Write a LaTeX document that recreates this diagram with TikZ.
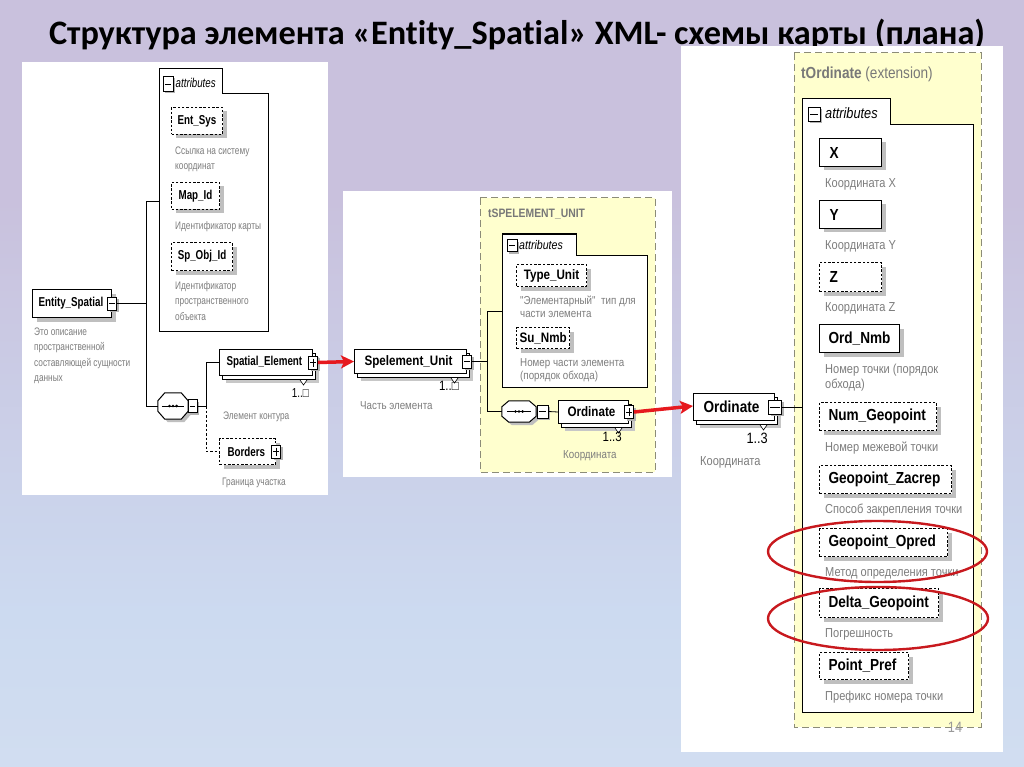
\documentclass[tikz,border=0pt]{standalone}
\usepackage{fontspec}
\setmainfont{Liberation Sans}
\newfontfamily\titlefont[Ligatures=NoCommon]{Carlito}
\newfontfamily\nf[FakeStretch=0.85]{Liberation Sans}
\newfontfamily\nfl[FakeStretch=0.76]{Liberation Sans}
\usetikzlibrary{shadows,arrows.meta,calc}
\definecolor{bgtop}{RGB}{201,193,221}
\definecolor{bgblue}{RGB}{204,218,240}
\definecolor{bgbot}{RGB}{222,229,242}
\definecolor{yel}{RGB}{255,255,206}
\definecolor{yeldash}{RGB}{140,140,120}
\definecolor{desc}{RGB}{125,125,125}
\definecolor{hdr}{RGB}{120,120,120}
\definecolor{arrred}{RGB}{230,25,30}
\definecolor{ellred}{RGB}{200,25,30}
\pgfdeclareverticalshading{bgshade}{100bp}{color(0bp)=(bgbot); color(35bp)=(bgblue); color(62bp)=(bgtop); color(100bp)=(bgtop)}
\tikzset{
  base/.style={draw=black, fill=white, line width=1pt, anchor=north west, inner xsep=6pt, inner ysep=0pt, align=left},
  req/.style={base, drop shadow={shadow xshift=4pt, shadow yshift=-4pt, fill=black!25, opacity=1}},
  opt/.style={req, dash pattern=on 2.5pt off 1.8pt},
  multi/.style={base,
    drop shadow={shadow xshift=6pt, shadow yshift=-7pt, fill=black!22, opacity=1},
    copy shadow={shadow xshift=3pt, shadow yshift=-4pt, draw=black, fill=white, line width=1pt}},
  grp/.style={draw=black, fill=white, line width=1pt},
  ybox/.style={draw=yeldash, fill=yel, line width=1pt, dash pattern=on 7pt off 4pt},
  pmbox/.style={draw=black, fill=white, line width=0.9pt, minimum width=9pt, minimum height=13pt, inner sep=0pt,
    drop shadow={shadow xshift=2pt, shadow yshift=-2pt, fill=black!30, opacity=1}},
  minus/.style={pmbox, path picture={\draw[line width=0.8pt] ([xshift=1.8pt]path picture bounding box.west) -- ([xshift=-1.8pt]path picture bounding box.east);}},
  plus/.style={pmbox, path picture={\draw[line width=0.8pt] ([xshift=1.8pt]path picture bounding box.west) -- ([xshift=-1.8pt]path picture bounding box.east);
      \draw[line width=0.8pt] ([yshift=-2.5pt]path picture bounding box.north) -- ([yshift=2.5pt]path picture bounding box.south);}},
  seqbox/.style={draw=none, inner sep=0pt},
  compo/.style={draw=black, fill=white, line width=1pt, drop shadow={shadow xshift=3pt, shadow yshift=-3pt, fill=black!25, opacity=1}},
  conn/.style={draw=black, line width=0.8pt},
  notch/.style={draw=black, line width=0.6pt, fill=white},
  redarr/.style={draw=arrred, line width=3.5pt, -{Stealth[length=13pt, width=13pt, inset=3pt]}},
  redell/.style={draw=ellred, line width=2.4pt},
  desc/.style={text=desc, anchor=base west, inner sep=0pt, align=left},
  mult/.style={text=black, anchor=base east, inner sep=0pt},
  Lb/.style={font=\nfl\bfseries\fontsize{12.9}{14}\selectfont},
  Mb/.style={font=\nf\bfseries\fontsize{13.7}{15}\selectfont},
  Rb/.style={font=\nf\bfseries\fontsize{16}{18}\selectfont},
  Ld/.style={desc, font=\nfl\fontsize{10.9}{15.3}\selectfont},
  Md/.style={desc, font=\nf\fontsize{11.5}{13}\selectfont},
  Rd/.style={desc, font=\nf\fontsize{13}{15}\selectfont},
  Lm/.style={mult, font=\nfl\fontsize{13}{14}\selectfont},
  Mm/.style={mult, font=\nf\fontsize{13.5}{14}\selectfont},
  Rm/.style={mult, font=\nf\fontsize{15}{16}\selectfont},
  attrt/.style={anchor=west, inner sep=0pt},
}
\begin{document}
\begin{tikzpicture}[x=1pt,y=-1pt]
\useasboundingbox (0,0) rectangle (1024,767);
\shade[shading=bgshade] (0,0) rectangle (1024,767);

% title
\node[font=\titlefont\bfseries\fontsize{34.3}{40}\selectfont, anchor=base, inner sep=0pt] (title) at (517,45)
  {Структура элемента «Entity\_Spatial» XML- схемы карты (плана)};

% ================= LEFT PANEL =================
\fill[white] (22,62) rectangle (328,495);
\draw[grp] (159,331) -- (159,69) -- (222,69) -- (222,94) -- (268,94) -- (268,331) -- cycle;
\node[minus, minimum width=10pt, minimum height=15pt] (atLm) at (168,84) {};
\node[attrt, font=\nfl\itshape\fontsize{12.8}{13}\selectfont] (atLt) at (175.5,83) {attributes};

\node[opt, Lb, inner xsep=4pt, text width=43pt, minimum height=27pt, align=center] (entsys) at (171,107) {Ent\_Sys};
\node[Ld] (entsysd) at (175,170) {Ссылка на систему\\координат};
\node[opt, Lb, inner xsep=4pt, text width=40pt, minimum height=27pt, align=center] (mapid) at (171,182) {Map\_Id};
\node[Ld] (mapidd) at (175,229.5) {Идентификатор карты};
\node[opt, Lb, inner xsep=4pt, text width=53pt, minimum height=28pt, align=center] (spobj) at (171,242) {Sp\_Obj\_Id};
\node[Ld] (spobjd) at (175,320) {Идентификатор\\пространственного\\объекта};

\node[req, Lb, inner xsep=6pt, text width=67pt, minimum height=28pt] (ent) at (32,289) {Entity\_Spatial};
\node[minus] (entpm) at (ent.east) {};
\node[Ld] (entd) at (34,381.5) {Это описание\\пространственной\\составляющей сущности\\данных};

\node[seqbox, minimum width=30pt, minimum height=26pt] (sq1) at (173,406) {};
\path[compo] ([xshift=7pt]sq1.north west) -- ([xshift=-7pt]sq1.north east) -- ([yshift=-8pt]sq1.north east)
  -- ([yshift=8pt]sq1.south east) -- ([xshift=-7pt]sq1.south east) -- ([xshift=7pt]sq1.south west)
  -- ([yshift=8pt]sq1.south west) -- ([yshift=-8pt]sq1.north west) -- cycle;
\draw[conn] ([xshift=4pt]sq1.west) -- ([xshift=-4pt]sq1.east);
\foreach \dx in {-3.6,0,3.6} \fill ([xshift=\dx pt]sq1.center) circle (1.4pt);
\node[minus] (sq1pm) at (192.5,406) {};

\node[multi, Lb, inner xsep=7pt, text width=79pt, minimum height=26pt] (spel) at (219,349) {Spatial\_Element};
\node[plus] (spelpm) at (spel.east) {};
\draw[notch] ([xshift=-13pt,yshift=-4pt]spel.south east) -- ++(3.5pt,-5pt) -- ++(3.5pt,5pt);
\node[Lm] (spelm) at (309,397) {1..□};
\node[Ld] (speld) at (223,419.5) {Элемент контура};

\node[opt, Lb, inner xsep=8pt, text width=40pt, minimum height=26pt] (bord) at (219,438) {Borders};
\node[plus] (bordpm) at (bord.east) {};
\node[Ld] (bordd) at (222,485.5) {Граница участка};

\coordinate (aL) at (159,201);
\coordinate (v1) at (146,201);
\coordinate (j2) at (206,406);
\draw[conn] (aL) -- (v1) -- (sq1.west -| v1) -- (sq1.west);
\draw[conn] (entpm.east) -- (entpm.east -| v1);
\draw[conn] (sq1pm.east) -- (sq1pm.east -| j2) |- (spel.west);
\draw[conn, dash pattern=on 2.5pt off 2pt] (sq1pm.east -| j2) |- (bord.west);

% ================= MIDDLE PANEL =================
\fill[white] (343,191) rectangle (672,477);
\draw[ybox] (480,198) rectangle (655,472);
\node[anchor=base west, inner sep=0pt, text=hdr, font=\nf\bfseries\fontsize{12.2}{13}\selectfont] (tspel) at (488,217.5) {tSPELEMENT\_UNIT};
\draw[grp] (502,387) -- (502,234) -- (576,234) -- (576,255) -- (647,255) -- (647,387) -- cycle;
\node[minus, minimum width=10pt, minimum height=12pt] (atMm) at (512,245.5) {};
\node[attrt, font=\nf\itshape\fontsize{12.5}{13}\selectfont] (atMt) at (519,245) {attributes};

\node[opt, Mb, inner xsep=6pt, text width=58pt, minimum height=22pt, align=center] (tu) at (516,264) {Type\_Unit};
\node[Md] (tud) at (520,317) {"Элементарный"\ \ тип для\\части элемента};
\node[opt, Mb, inner xsep=3pt, text width=47pt, minimum height=21pt, align=center] (sn) at (516,327) {Su\_Nmb};
\node[Md] (snd) at (520,379) {Номер части элемента\\(порядок обхода)};

\node[multi, Mb, inner xsep=10pt, text width=92pt, minimum height=24pt] (su) at (354,349) {Spelement\_Unit};
\node[minus] (supm) at (su.east) {};
\draw[notch] ([xshift=-16pt,yshift=-4pt]su.south east) -- ++(3.5pt,-5pt) -- ++(3.5pt,5pt);
\node[Mm] (sum) at (459,390) {1..□};
\node[Md] (sud) at (360,409) {Часть элемента};

\node[seqbox, minimum width=34pt, minimum height=21pt] (sq2) at (519,411.5) {};
\path[compo] ([xshift=7pt]sq2.north west) -- ([xshift=-7pt]sq2.north east) -- ([yshift=-6pt]sq2.north east)
  -- ([yshift=6pt]sq2.south east) -- ([xshift=-7pt]sq2.south east) -- ([xshift=7pt]sq2.south west)
  -- ([yshift=6pt]sq2.south west) -- ([yshift=-6pt]sq2.north west) -- cycle;
\draw[conn] ([xshift=5pt]sq2.west) -- ([xshift=-5pt]sq2.east);
\foreach \dx in {-3.6,0,3.6} \fill ([xshift=\dx pt]sq2.center) circle (1.4pt);
\node[minus, minimum width=11pt] (sq2pm) at (542.5,411.5) {};

\node[multi, Mb, inner xsep=9pt, text width=52pt, minimum height=23pt] (mord) at (558,400) {Ordinate};
\node[plus] (mordpm) at (mord.east) {};
\draw[notch] ([xshift=-14pt,yshift=-4pt]mord.south east) -- ++(3.5pt,-5pt) -- ++(3.5pt,5pt);
\node[Mm] (mordm) at (622,441) {1..3};
\node[Md] (mordd) at (563,458) {Координата};

\coordinate (aM) at (502,311);
\coordinate (j3) at (487,311);
\draw[conn] (aM) -- (j3) -- (sq2.west -| j3) -- (sq2.west);
\draw[conn] (supm.east) -- (supm.east -| j3);
\draw[conn] (sq2pm.east) -- (mord.west);

% ================= RIGHT PANEL =================
\fill[white] (681,46) rectangle (1003,752);
\draw[ybox] (794,53) rectangle (981,727);
\node[anchor=base west, inner sep=0pt, text=hdr, font=\nf\fontsize{16}{17}\selectfont] (tord) at (801,78.5) {{\bfseries tOrdinate} (extension)};
\draw[grp] (802,712) -- (802,99) -- (890,99) -- (890,125) -- (973,125) -- (973,712) -- cycle;
\node[minus, minimum width=12pt, minimum height=14pt] (atRm) at (814,114) {};
\node[attrt, font=\nf\itshape\fontsize{15}{16}\selectfont] (atRt) at (825,113) {attributes};

\node[req, Rb, inner xsep=10pt, text width=42pt, minimum height=28pt] (ax) at (819,138) {X};
\node[Rd] (axd) at (825,187.5) {Координата X};
\node[req, Rb, inner xsep=10pt, text width=42pt, minimum height=28pt] (ay) at (819,200) {Y};
\node[Rd] (ayd) at (825,249.5) {Координата Y};
\node[opt, Rb, inner xsep=10pt, text width=42pt, minimum height=29pt] (az) at (819,262) {Z};
\node[Rd] (azd) at (825,311.5) {Координата Z};
\node[req, Rb, inner xsep=9pt, text width=62pt, minimum height=28pt] (on) at (819,324) {Ord\_Nmb};
\node[Rd] (ond) at (825,388.5) {Номер точки (порядок\\обхода)};
\node[opt, Rb, inner xsep=9pt, text width=99pt, minimum height=28pt] (ng) at (819,402) {Num\_Geopoint};
\node[Rd] (ngd) at (825,451.5) {Номер межевой точки};
\node[opt, Rb, inner xsep=9pt, text width=114pt, minimum height=28pt] (gz) at (819,465) {Geopoint\_Zacrep};
\node[Rd] (gzd) at (825,513.5) {Способ закрепления точки};
\node[opt, Rb, inner xsep=9pt, text width=110pt, minimum height=28pt] (go) at (819,528) {Geopoint\_Opred};
\node[Rd] (god) at (825,576.5) {Метод определения точки};
\node[opt, Rb, inner xsep=9pt, text width=101pt, minimum height=29pt] (dg) at (819,588) {Delta\_Geopoint};
\node[Rd] (dgd) at (825,637.5) {Погрешность};
\node[opt, Rb, inner xsep=9pt, text width=71pt, minimum height=27pt] (pp) at (819,652) {Point\_Pref};
\node[Rd] (ppd) at (825,700.5) {Префикс номера точки};

\node[multi, Rb, inner xsep=10pt, text width=61pt, minimum height=27pt] (rord) at (693,393) {Ordinate};
\node[minus, minimum width=13pt, minimum height=14pt] (rordpm) at (rord.east) {};
\draw[notch] ([xshift=-15pt,yshift=-4pt]rord.south east) -- ++(3.5pt,-5pt) -- ++(3.5pt,5pt);
\node[Rm] (rordm) at (768,443) {1..3};
\node[Rd] (rordd) at (700,465.5) {Координата};

\coordinate (aR) at (802,406);
\draw[conn] (rordpm.east) -- (rordpm.east -| aR);

\node[anchor=base, inner sep=0pt, text=black!40, font=\nf\fontsize{15}{16}\selectfont] (pgno) at (955,732) {14};

% red arrows and ellipses
\draw[redarr] (spelpm.east) -- (su.west);
\draw[redarr] (mordpm.east) -- ([yshift=1pt]rord.west);
\draw[redell] (877.5,551.5) ellipse [x radius=109.5pt, y radius=30.5pt];
\draw[redell] (878,618.5) ellipse [x radius=110pt, y radius=31.5pt];
\end{tikzpicture}
\end{document}
